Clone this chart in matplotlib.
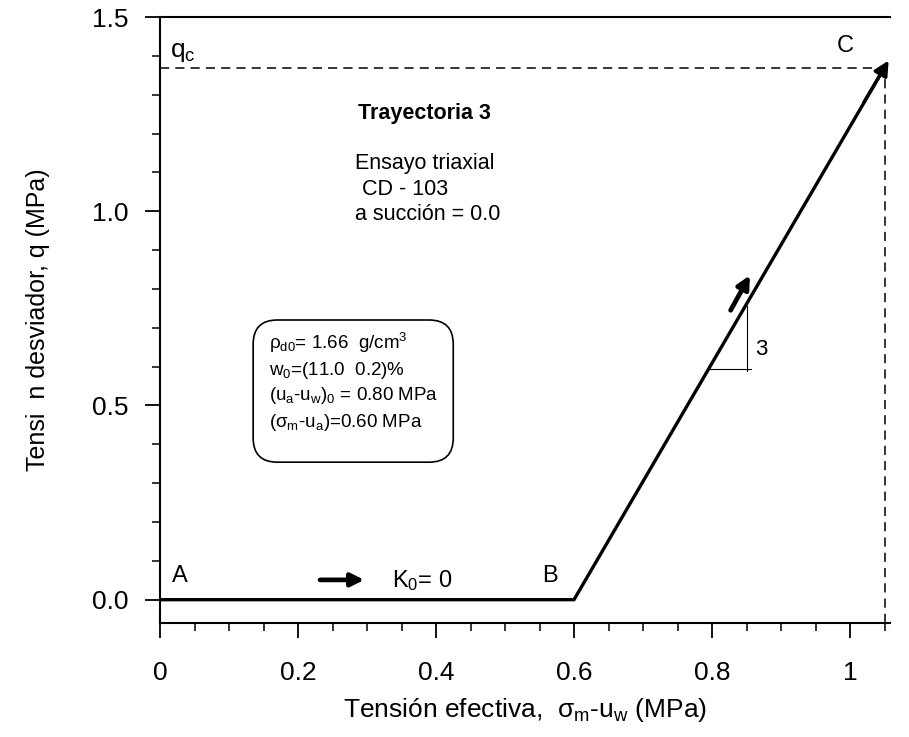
import matplotlib.pyplot as plt
from matplotlib.patches import FancyBboxPatch
from matplotlib.ticker import MultipleLocator

plt.rcParams['font.family'] = ['Liberation Sans', 'DejaVu Sans']
plt.rcParams['mathtext.fontset'] = 'custom'
plt.rcParams['mathtext.rm'] = 'Liberation Sans'
plt.rcParams['mathtext.it'] = 'Liberation Sans:italic'

# stress path A -> B -> C
path_x = [0.0, 0.6, 1.05]
path_q = [0.0, 0.0, 1.37]
point_names = ['A', 'B', 'C']
qc = 1.37

xticks = [0, 0.2, 0.4, 0.6, 0.8, 1.0]
xtick_labels = ['0', '0.2', '0.4', '0.6', '0.8', '1']
yticks = [0.0, 0.5, 1.0, 1.5]
ytick_labels = ['0.0', '0.5', '1.0', '1.5']

box_lines = [r'ρ$_{\mathrm{d0}}$= 1.66  g/cm$^{\mathrm{3}}$',
             r'w$_{\mathrm{0}}$=(11.0  0.2)%',
             r'(u$_{\mathrm{a}}$-u$_{\mathrm{w}}$)$_{\mathrm{0}}$ = 0.80 MPa',
             r'(σ$_{\mathrm{m}}$-u$_{\mathrm{a}}$)=0.60 MPa']
box_line_q = [0.662, 0.59, 0.526, 0.456]

fig = plt.figure(figsize=(9.09, 7.37), dpi=100)
ax = fig.add_axes([160/909, 1 - 623/737, 730/909, 606/737])
xmax, ymin, ymax = 730/690, -0.06, 1.5
ax.set_xlim(0, xmax)
ax.set_ylim(ymin, ymax)

# path
ax.plot(path_x, path_q, color='k', lw=2.4, solid_joinstyle='miter', zorder=3)
ax.annotate('', xy=(path_x[2] + 0.006, path_q[2] + 0.018), xytext=(path_x[2] - 0.03, path_q[2] - 0.09),
            annotation_clip=False,
            arrowprops=dict(arrowstyle='-|>', color='k', lw=2.4, mutation_scale=22, shrinkA=0, shrinkB=0))

# q_c dashed guides
ax.plot([0, path_x[2]], [qc, qc], color='k', lw=1.1, dashes=(6, 4))
ax.plot([path_x[2], path_x[2]], [ymin, qc], color='k', lw=1.1, dashes=(6, 4))

# point labels
ax.text(0.029, 0.06, point_names[0], fontsize=17, ha='center', va='center')
ax.text(0.565, 0.06, point_names[1], fontsize=17, ha='center', va='center')
ax.text(0.993, 1.425, point_names[2], fontsize=17, ha='center', va='center')
ax.text(0.015, 1.41, r'q$_{\mathrm{c}}$', fontsize=19, ha='left', va='center')

# direction arrows
ax.annotate('', xy=(0.296, 0.051), xytext=(0.232, 0.051),
            arrowprops=dict(arrowstyle='-|>', color='k', lw=3.4, mutation_scale=19, shrinkA=0, shrinkB=0))
ax.text(0.38, 0.05, r'K$_{\mathrm{0}}$= 0', fontsize=17, ha='center', va='center')
ax.annotate('', xy=(0.855, 0.835), xytext=(0.827, 0.745),
            arrowprops=dict(arrowstyle='-|>', color='k', lw=3.4, mutation_scale=19, shrinkA=0, shrinkB=0))

# slope triangle
ax.plot([0.796, 0.857], [0.595, 0.595], color='k', lw=0.8)
ax.plot([0.85, 0.85], [0.59, 0.757], color='k', lw=0.8)
ax.text(0.862, 0.645, '3', fontsize=16, ha='left', va='center')

# test info
ax.text(0.383, 1.251, 'Trayectoria 3', fontsize=15.5, fontweight='bold', ha='center', va='center')
ax.text(0.283, 1.123, 'Ensayo triaxial', fontsize=15.5, ha='left', va='center')
ax.text(0.293, 1.056, 'CD - 103', fontsize=15.5, ha='left', va='center')
ax.text(0.283, 0.992, 'a succión = 0.0', fontsize=15.5, ha='left', va='center')

box = FancyBboxPatch((0.135, 0.354), 0.29, 0.366, boxstyle='round,pad=0,rounding_size=0.035',
                     mutation_aspect=1.78, fc='white', ec='k', lw=1.2)
ax.add_patch(box)
for line, q in zip(box_lines, box_line_q):
    ax.text(0.158, q, line, fontsize=13.5, ha='left', va='center')

# axes styling
ax.spines['right'].set_visible(False)
for s in ['left', 'bottom', 'top']:
    ax.spines[s].set_linewidth(1.5)
ax.set_xticks(xticks)
ax.set_xticklabels(xtick_labels)
ax.set_yticks(yticks)
ax.set_yticklabels(ytick_labels)
ax.xaxis.set_minor_locator(MultipleLocator(0.05))
ax.yaxis.set_minor_locator(MultipleLocator(0.1))
ax.tick_params(axis='both', which='major', direction='out', length=11, width=1.3, labelsize=19, pad=12)
ax.tick_params(axis='x', which='major', pad=16)
ax.tick_params(axis='both', which='minor', direction='out', length=6, width=1.1)

ax.set_xlabel(r'Tensión efectiva,  σ$_{\mathrm{m}}$-u$_{\mathrm{w}}$ (MPa)', fontsize=19, labelpad=8)
ax.set_ylabel('Tensi  n desviador, q (MPa)', fontsize=18, labelpad=30)

fig.savefig('out.png', dpi=100)
